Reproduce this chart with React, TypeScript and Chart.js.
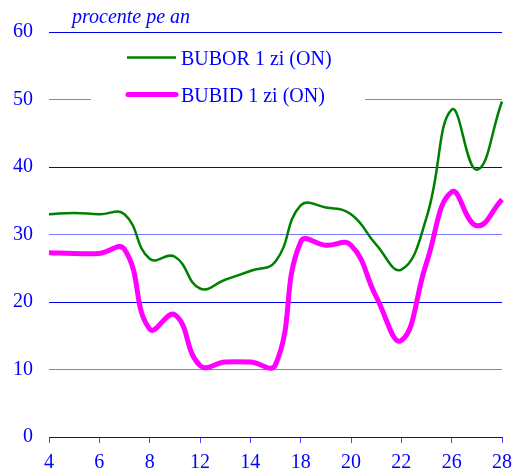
import React, { useEffect, useRef } from "react";
import { Chart, registerables } from "chart.js";
Chart.register(...registerables);

const days = ["4", "5", "6", "7", "8", "11", "12", "13", "14", "15", "18", "19", "20", "21", "22", "25", "26", "27", "28"];
const bubor = [33.0, 33.2, 33.0, 33.0, 26.4, 26.7, 22.0, 23.3, 24.6, 26.0, 34.3, 34.0, 33.0, 28.5, 24.8, 32.5, 48.5, 39.6, 49.7];
const bubid = [27.3, 27.2, 27.2, 27.8, 16.0, 18.1, 10.6, 11.1, 11.1, 10.7, 28.9, 28.4, 28.4, 20.8, 14.3, 25.8, 36.3, 31.3, 35.2];
const yMin = 0;
const yMax = 60;
const yStep = 10;
const unitTitle = "procente pe an";
const seriesNames = ["BUBOR 1 zi (ON)", "BUBID 1 zi (ON)"];
const seriesColors = ["#008000", "#ff00ff"];
const seriesWidths = [2.5, 5];

const FONT = "'Liberation Serif', 'Times New Roman', serif";
const BLUE = "#0000ff";

const overlayPlugin = {
  id: "overlay",
  afterDraw(chart: any) {
    const ctx = chart.ctx;
    ctx.save();
    ctx.fillStyle = "#ffffff";
    ctx.fillRect(91, 40, 274, 72);
    ctx.fillStyle = BLUE;
    ctx.font = `italic 20px ${FONT}`;
    ctx.textBaseline = "alphabetic";
    ctx.textAlign = "left";
    ctx.fillText(unitTitle, 72, 23);
    const rows = [
      { y: 57.5, x0: 127, x1: 176 },
      { y: 94.5, x0: 128, x1: 176 },
    ];
    rows.forEach((r, i) => {
      ctx.strokeStyle = seriesColors[i];
      ctx.lineWidth = seriesWidths[i];
      ctx.lineCap = i === 1 ? "round" : "butt";
      ctx.beginPath();
      ctx.moveTo(r.x0, r.y);
      ctx.lineTo(r.x1, r.y);
      ctx.stroke();
      ctx.fillStyle = BLUE;
      ctx.font = `20px ${FONT}`;
      ctx.textBaseline = "middle";
      ctx.fillText(seriesNames[i], 181, r.y + 2.5);
    });
    ctx.restore();
  },
};

export default function App() {
  const ref = useRef<HTMLCanvasElement>(null);
  useEffect(() => {
    if (!ref.current) return;
    const chart = new Chart(ref.current, {
      type: "line",
      data: {
        labels: days,
        datasets: [
          {
            label: seriesNames[0],
            data: bubor,
            borderColor: seriesColors[0],
            borderWidth: seriesWidths[0],
            pointRadius: 0,
            tension: 0.45,
            fill: false,
          },
          {
            label: seriesNames[1],
            data: bubid,
            borderColor: seriesColors[1],
            borderWidth: seriesWidths[1],
            pointRadius: 0,
            tension: 0.45,
            fill: false,
          },
        ],
      },
      options: {
        animation: false,
        responsive: true,
        maintainAspectRatio: false,
        layout: { padding: { top: 32, right: 12, left: 0, bottom: 0 } },
        plugins: {
          legend: { display: false },
          tooltip: { enabled: false },
          title: { display: false },
        },
        scales: {
          x: {
            type: "category",
            offset: false,
            afterFit: (s: any) => {
              s.height = 33;
              s.paddingRight = 0;
              s.paddingLeft = 0;
            },
            grid: {
              drawOnChartArea: false,
              drawTicks: true,
              tickLength: 6,
              color: (c: any) => (c.index % 2 === 0 ? "#4a4aff" : "rgba(0,0,0,0)"),
            },
            border: { display: true, color: BLUE, width: 1 },
            ticks: {
              autoSkip: false,
              maxRotation: 0,
              padding: 8,
              color: BLUE,
              font: { family: FONT, size: 20 },
              callback: (_v: any, i: number) => (i % 2 === 0 ? days[i] : ""),
            },
          },
          y: {
            min: yMin,
            max: yMax,
            afterFit: (s: any) => {
              s.width = 49;
            },
            grid: {
              drawTicks: false,
              color: (c: any) => {
                const v = c.tick ? c.tick.value : 0;
                if (v === 0) return "rgba(0,0,0,0)";
                return (v / 10) % 2 === 0 ? "#0000e6" : "#7a7aff";
              },
            },
            border: { display: false },
            ticks: {
              stepSize: yStep,
              padding: 16,
              color: BLUE,
              font: { family: FONT, size: 20 },
            },
          },
        },
      },
      plugins: [overlayPlugin],
    });
    return () => chart.destroy();
  }, []);
  return (
    <div style={{ position: "fixed", left: 0, top: 0, width: 514, height: 470, background: "#fff" }}>
      <canvas ref={ref} />
    </div>
  );
}
